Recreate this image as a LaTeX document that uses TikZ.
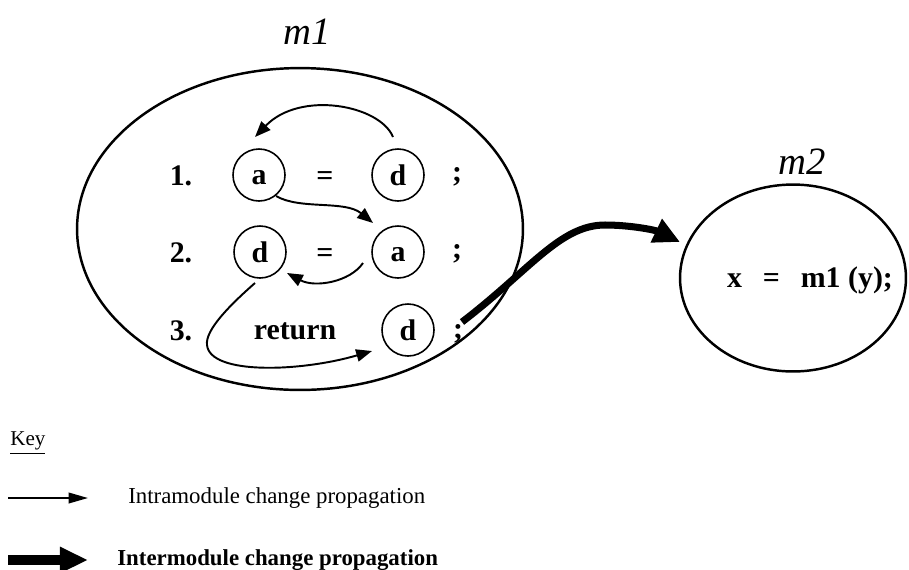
\documentclass[tikz,border=0pt]{standalone}
\usepackage{fontspec}
\setmainfont{Liberation Serif}
\usetikzlibrary{arrows.meta,shapes.geometric,calc}
\begin{document}
\begin{tikzpicture}[x=0.02cm,y=-0.02cm,
  modell/.style={draw, line width=1.4pt, ellipse, inner sep=0pt},
  var/.style={draw, circle, line width=0.9pt, minimum size=29.6pt, inner sep=0pt, font=\fontsize{17}{17}\selectfont\bfseries},
  lowvar/.style={var, text height=10.5pt, text depth=0pt},
  code/.style={font=\fontsize{17}{17}\selectfont\bfseries, inner sep=0pt},
  modlabel/.style={font=\fontsize{22}{22}\selectfont\itshape},
  intra/.style={line width=1.1pt, -{Triangle[length=9pt,width=7pt]}},
  inter/.style={line width=4pt, -{Triangle[length=15pt,width=14pt]}},
  keytext/.style={font=\fontsize{13}{13}\selectfont, anchor=west, inner sep=0pt}]
\useasboundingbox (0,0) rectangle (909,569);
% module m1
\node[modell, minimum width=253.8pt, minimum height=183.2pt] (m1) at (300,229) {};
\node[modlabel] (m1lab) at (307,32) {m1};
\node[code] (n1) at (181,176) {1.};
\node[lowvar] (a1) at (259,175) {a};
\node[code] (eq1) at (325,179) {=};
\node[var] (d1) at (398,175) {d};
\node[code] (sc1) at (457,177) {;};
\node[code] (n2) at (181,253) {2.};
\node[var] (d2) at (260,252) {d};
\node[code] (eq2) at (325,256) {=};
\node[lowvar] (a2) at (398,252) {a};
\node[code] (sc2) at (457,254) {;};
\node[code] (n3) at (181,331) {3.};
\node[code] (ret) at (295,331) {return};
\node[var] (d3) at (408,330) {d};
\node[code] (sc3) at (458,334) {;};
% module m2
\node[modell, minimum width=128.6pt, minimum height=106.4pt] (m2) at (793,278) {};
\node[modlabel] (m2lab) at (802,162) {m2};
\node[code] (call) at (810,280) {x\hspace{0.7em}=\hspace{0.7em}m1 (y);};
% intramodule propagation
\draw[intra] ($(d1)+(-5,-38)$) .. controls (380,105) and (300,90) .. ($(a1)+(-4,-38)$);
\draw[intra] ($(a1)+(17,21)$) .. controls (300,210) and (345,200) .. ($(a2)+(-25,-29)$);
\draw[intra] ($(a2)+(-35,11)$) .. controls (350,282) and (315,288) .. ($(d2)+(27,21)$);
\draw[intra] ($(d2)+(-5,31)$) .. controls (230,305) and (205,330) .. (207,345) .. controls (210,375) and (300,372) .. ($(d3)+(-36,21)$);
% intermodule propagation
\draw[inter] ($(sc3)+(4,-12)$) .. controls (530,270) and (560,225) .. (605,225) .. controls (630,225) and (655,230) .. ($(m2)+(-113,-36)$);
% key
\node[font=\fontsize{12}{12}\selectfont, anchor=west, inner sep=0pt] (key) at (10,443) {\underline{Key}};
\coordinate (k1s) at (8,498);
\coordinate (k1e) at (88,498);
\draw[line width=1.1pt, -{Triangle[length=11pt,width=6pt]}] (k1s) -- (k1e);
\node[keytext] (k1t) at (128,498) {Intramodule change propagation};
\coordinate (k2s) at (8,560);
\coordinate (k2e) at (88,560);
\draw[line width=6pt, -{Triangle[length=16pt,width=14pt]}] (k2s) -- (k2e);
\node[keytext, font=\fontsize{13}{13}\selectfont\bfseries] (k2t) at (117,560) {Intermodule change propagation};
\end{tikzpicture}
\end{document}
